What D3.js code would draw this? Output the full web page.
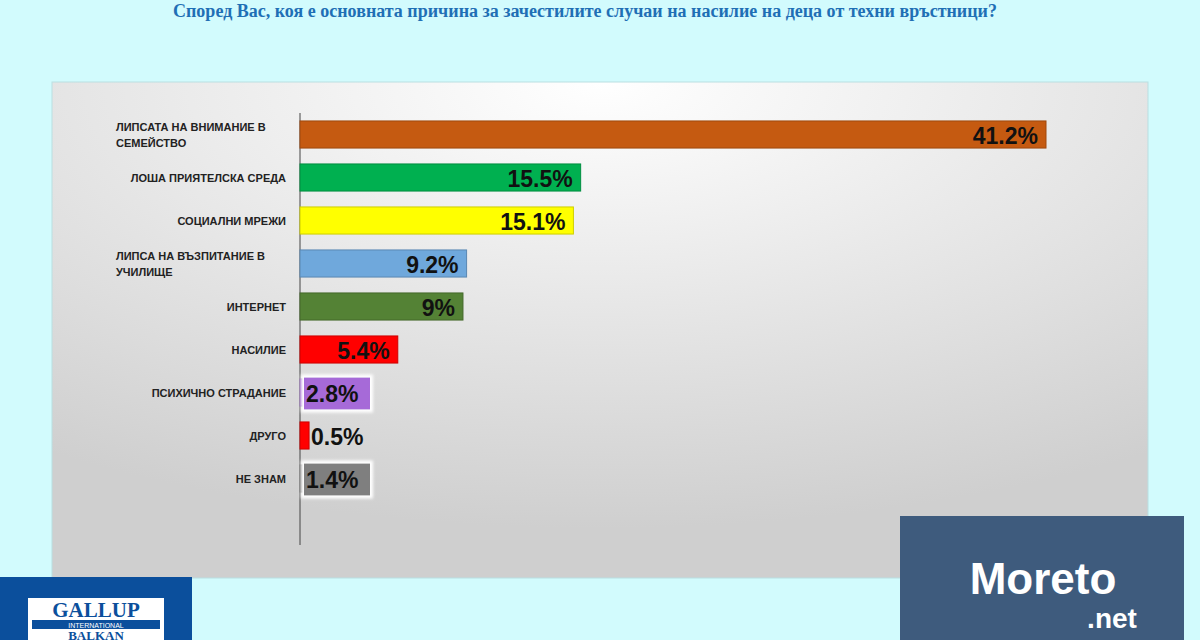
<!DOCTYPE html>
<meta charset="utf-8">
<html>
<style>
body { margin:0; background:#d2fbfd; }
svg { display:block; font-family: "Liberation Sans", Arial, sans-serif; }
</style>
<body>
<svg width="1200" height="640"></svg>
<script src="https://d3js.org/d3.v7.min.js"></script>
<script>
var categories = ["ЛИПСАТА НА ВНИМАНИЕ В|СЕМЕЙСТВО", "ЛОША ПРИЯТЕЛСКА СРЕДА", "СОЦИАЛНИ МРЕЖИ",
  "ЛИПСА НА ВЪЗПИТАНИЕ В|УЧИЛИЩЕ", "ИНТЕРНЕТ", "НАСИЛИЕ", "ПСИХИЧНО СТРАДАНИЕ", "ДРУГО", "НЕ ЗНАМ"];
var values = [41.2, 15.5, 15.1, 9.2, 9, 5.4, 2.8, 0.5, 1.4];
var labels = ["41.2%", "15.5%", "15.1%", "9.2%", "9%", "5.4%", "2.8%", "0.5%", "1.4%"];
var colors = ["#c55a11", "#00b050", "#ffff00", "#6fa8dc", "#548235", "#ff0000", "#a66bd8", "#ff0000", "#7f7f7f"];

var svg = d3.select("svg");
var defs = svg.append("defs");
var grad = defs.append("radialGradient").attr("id", "bg").attr("cx", "50%").attr("cy", "0%").attr("r", "90%");
grad.append("stop").attr("offset", "0%").attr("stop-color", "#ffffff");
grad.append("stop").attr("offset", "100%").attr("stop-color", "#cfcfcf");
var glow = defs.append("filter").attr("id", "glow").attr("x", "-20%").attr("y", "-20%").attr("width", "140%").attr("height", "140%");
glow.append("feMorphology").attr("in", "SourceAlpha").attr("operator", "dilate").attr("radius", 3).attr("result", "d");
glow.append("feGaussianBlur").attr("in", "d").attr("stdDeviation", 1.5).attr("result", "b");
glow.append("feFlood").attr("flood-color", "#fff");
glow.append("feComposite").attr("in2", "b").attr("operator", "in");
var m = glow.append("feMerge");
m.append("feMergeNode");
m.append("feMergeNode").attr("in", "SourceGraphic");

// title
svg.append("text").attr("x", 585).attr("y", 17).attr("text-anchor", "middle")
  .attr("fill", "#1f6fb5").attr("font-weight", "bold").attr("font-size", 18)
  .attr("font-family", "'Liberation Serif', serif")
  .text("Според Вас, коя е основната причина за зачестилите случаи на насилие на деца от техни връстници?");

// panel
svg.append("rect").attr("x", 52).attr("y", 82).attr("width", 1096).attr("height", 496)
  .attr("fill", "url(#bg)").attr("stroke", "#b9dfe2");

var x = d3.scaleLinear().domain([0, 41.2]).range([300, 1046]);
var y = d3.scaleBand().domain(categories).range([113, 500]).paddingInner(0.37).paddingOuter(0.185);

svg.append("line").attr("x1", 300).attr("x2", 300).attr("y1", 113).attr("y2", 545).attr("stroke", "#444");

var rows = svg.selectAll(".row").data(categories).enter().append("g");

rows.append("rect")
  .attr("x", x(0)).attr("y", function(d) { return y(d); })
  .attr("width", function(d, i) { return x(values[i]) - x(0); })
  .attr("height", y.bandwidth())
  .attr("fill", function(d, i) { return colors[i]; })
  .attr("stroke", function(d, i) { return d3.color(colors[i]).darker(0.6); });

rows.each(function(d, i) {
  var g = d3.select(this), parts = d.split("|"), cy = y(d) + y.bandwidth() / 2;
  var t = g.append("text").attr("font-size", 11).attr("font-weight", "bold").attr("fill", "#222");
  parts.forEach(function(p, k) {
    t.append("tspan").attr("x", parts.length > 1 ? 116 : 286)
      .attr("text-anchor", parts.length > 1 ? "start" : "end")
      .attr("y", cy + 4 + (k - (parts.length - 1) / 2) * 16).text(p);
  });
  var inside = values[i] > 5;
  var lx = inside ? x(values[i]) - 8 : x(0) + 6;
  if (!inside && values[i] > 1) {
    g.append("rect").attr("x", x(0) + 4).attr("y", cy - 15).attr("width", 66).attr("height", 32)
      .attr("fill", colors[i]).attr("filter", "url(#glow)");
  }
  if (!inside && values[i] <= 1) lx = x(values[i]) + 2;
  g.append("text").attr("x", lx).attr("y", cy + 9)
    .attr("text-anchor", inside ? "end" : "start")
    .attr("font-size", 23).attr("font-weight", "bold").attr("fill", "#111").text(labels[i]);
});

// logos
svg.append("rect").attr("x", 0).attr("y", 577).attr("width", 192).attr("height", 63).attr("fill", "#0b4f9c");
svg.append("rect").attr("x", 28).attr("y", 598).attr("width", 136).attr("height", 42).attr("fill", "#fff");
svg.append("text").attr("x", 96).attr("y", 617).attr("text-anchor", "middle").attr("fill", "#0b4f9c")
  .attr("font-family", "'Liberation Serif', serif").attr("font-size", 21).attr("font-weight", "bold").text("GALLUP");
svg.append("rect").attr("x", 32).attr("y", 620).attr("width", 128).attr("height", 9).attr("fill", "#0b4f9c");
svg.append("text").attr("x", 96).attr("y", 627.5).attr("text-anchor", "middle").attr("fill", "#fff")
  .attr("font-size", 7).text("INTERNATIONAL");
svg.append("text").attr("x", 96).attr("y", 640).attr("text-anchor", "middle").attr("fill", "#0b4f9c")
  .attr("font-family", "'Liberation Serif', serif").attr("font-size", 13).attr("font-weight", "bold").text("BALKAN");

svg.append("rect").attr("x", 900).attr("y", 516).attr("width", 284).attr("height", 124).attr("fill", "#3e5b7d");
svg.append("text").attr("x", 1043).attr("y", 594).attr("text-anchor", "middle").attr("fill", "#fff")
  .attr("font-size", 44).attr("font-weight", "bold").text("Moreto");
svg.append("text").attr("x", 1112).attr("y", 628).attr("text-anchor", "middle").attr("fill", "#fff")
  .attr("font-size", 28).attr("font-weight", "bold").text(".net");
</script>
</body>
</html>
